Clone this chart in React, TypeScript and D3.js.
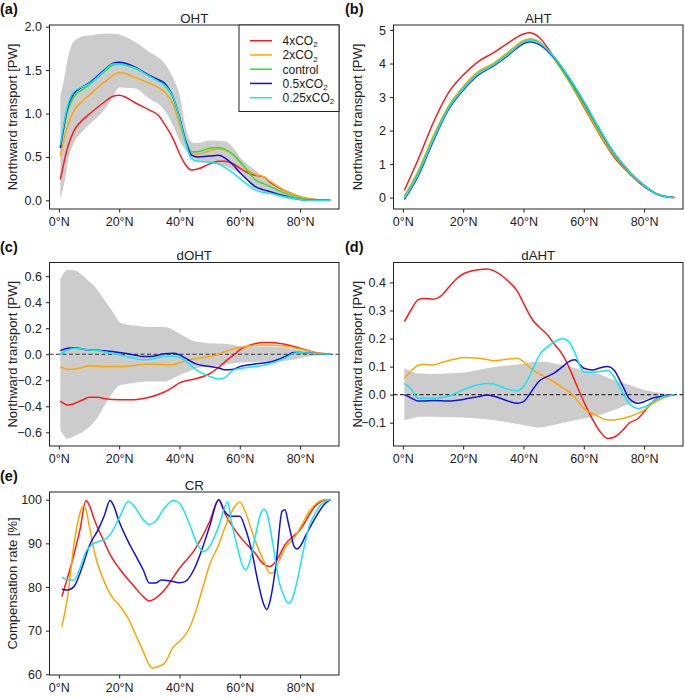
import React, { useEffect, useRef } from "react"
import * as d3 from "d3"

const FONT = "Liberation Sans, Arial, Helvetica, sans-serif"

const RED = "#ff1a1a"
const ORANGE = "#ffa500"
const GREEN = "#2ee02e"
const BLUE = "#1010e0"
const CYAN = "#10e8f0"
const BAND = "#cccccc"

const legendNames = ["4xCO", "2xCO", "control", "0.5xCO", "0.25xCO"]
const legendSub = ["2", "2", "", "2", "2"]
const legendColors = [RED, ORANGE, GREEN, BLUE, CYAN]

const xTicks = [0, 20, 40, 60, 80]

// ---- (a) OHT
const latA = [0.5, 3, 5, 8, 10, 15, 18, 20, 22, 25, 30, 33, 35, 38, 40, 42, 44, 46, 50, 53, 55, 58, 60, 63, 65, 68, 70, 75, 80, 85, 90]
const ohtRed = [0.24, 0.62, 0.80, 0.93, 0.99, 1.13, 1.20, 1.21, 1.19, 1.13, 1.04, 0.98, 0.88, 0.70, 0.54, 0.41, 0.35, 0.36, 0.42, 0.45, 0.45, 0.42, 0.37, 0.31, 0.29, 0.27, 0.21, 0.11, 0.04, 0.01, 0]
const ohtOrange = [0.51, 0.87, 1.03, 1.15, 1.21, 1.36, 1.44, 1.47, 1.46, 1.42, 1.35, 1.30, 1.25, 1.10, 0.88, 0.67, 0.55, 0.53, 0.57, 0.59, 0.58, 0.52, 0.44, 0.34, 0.30, 0.27, 0.22, 0.11, 0.04, 0.01, 0]
const ohtControl = [0.62, 1.04, 1.19, 1.28, 1.33, 1.48, 1.56, 1.57, 1.56, 1.52, 1.44, 1.38, 1.33, 1.17, 0.95, 0.70, 0.56, 0.56, 0.60, 0.61, 0.59, 0.52, 0.45, 0.32, 0.24, 0.19, 0.16, 0.08, 0.02, 0, 0]
const ohtHalf = [0.60, 1.08, 1.23, 1.31, 1.35, 1.50, 1.58, 1.59, 1.58, 1.54, 1.44, 1.39, 1.35, 1.18, 0.96, 0.69, 0.52, 0.50, 0.51, 0.52, 0.49, 0.40, 0.32, 0.22, 0.16, 0.12, 0.10, 0.05, 0.01, 0, 0]
const ohtQuarter = [0.64, 1.10, 1.25, 1.31, 1.34, 1.49, 1.57, 1.57, 1.56, 1.53, 1.43, 1.37, 1.33, 1.18, 0.95, 0.67, 0.48, 0.45, 0.44, 0.42, 0.38, 0.31, 0.25, 0.17, 0.12, 0.09, 0.08, 0.04, 0.01, 0, 0]
const bandALat = [0.5, 2, 3, 5, 8, 10, 15, 18, 20, 25, 30, 35, 38, 40, 42, 44, 46, 50, 55, 58, 60, 65, 70, 75, 80, 85, 90]
const bandAUp = [1.20, 1.45, 1.64, 1.83, 1.89, 1.90, 1.92, 1.92, 1.91, 1.83, 1.71, 1.58, 1.40, 1.22, 0.85, 0.67, 0.66, 0.69, 0.68, 0.60, 0.50, 0.35, 0.21, 0.12, 0.05, 0.01, 0]
const bandALow = [0.02, 0.23, 0.45, 0.66, 0.80, 0.87, 1.04, 1.19, 1.30, 1.29, 1.17, 1.04, 0.85, 0.69, 0.58, 0.50, 0.46, 0.43, 0.39, 0.35, 0.31, 0.14, 0.08, 0.02, 0, 0, 0]

// ---- (b) AHT
const latB = [0.5, 5, 10, 15, 20, 25, 30, 35, 40, 42, 45, 50, 55, 60, 65, 70, 75, 80, 85, 90]
const ahtRed = [0.22, 1.12, 2.22, 3.11, 3.66, 4.06, 4.32, 4.62, 4.88, 4.92, 4.80, 4.20, 3.50, 2.71, 1.92, 1.22, 0.73, 0.33, 0.08, 0]
const ahtOrange = [0.05, 0.78, 1.82, 2.71, 3.31, 3.76, 4.00, 4.35, 4.68, 4.73, 4.65, 4.16, 3.48, 2.74, 1.95, 1.26, 0.75, 0.35, 0.08, 0]
const ahtControl = [0.0, 0.72, 1.75, 2.66, 3.26, 3.71, 3.96, 4.30, 4.64, 4.70, 4.63, 4.18, 3.52, 2.80, 2.02, 1.30, 0.77, 0.36, 0.08, 0]
const ahtHalf = [-0.05, 0.63, 1.67, 2.61, 3.21, 3.66, 3.93, 4.25, 4.60, 4.65, 4.58, 4.20, 3.59, 2.86, 2.07, 1.34, 0.78, 0.36, 0.08, 0]
const ahtQuarter = [-0.02, 0.68, 1.71, 2.64, 3.24, 3.69, 3.95, 4.28, 4.63, 4.68, 4.62, 4.22, 3.60, 2.87, 2.08, 1.34, 0.78, 0.36, 0.08, 0]
const bandBUp = [0.06, 0.80, 1.83, 2.74, 3.34, 3.78, 4.03, 4.37, 4.71, 4.77, 4.70, 4.25, 3.59, 2.87, 2.09, 1.37, 0.83, 0.40, 0.10, 0]
const bandBLow = [-0.08, 0.62, 1.65, 2.56, 3.16, 3.62, 3.88, 4.22, 4.56, 4.62, 4.55, 4.11, 3.45, 2.72, 1.95, 1.23, 0.71, 0.32, 0.06, 0]

// ---- (c) dOHT
const latC = [0.5, 3, 5, 8, 10, 13, 15, 20, 25, 28, 30, 35, 38, 40, 43, 45, 50, 53, 55, 58, 60, 65, 68, 70, 75, 78, 80, 85, 90]
const dohtRed = [-0.36, -0.39, -0.38, -0.35, -0.33, -0.33, -0.34, -0.35, -0.35, -0.34, -0.33, -0.29, -0.25, -0.22, -0.20, -0.19, -0.15, -0.10, -0.06, -0.005, 0.033, 0.08, 0.09, 0.09, 0.077, 0.06, 0.046, 0.013, 0]
const dohtOrange = [-0.095, -0.115, -0.115, -0.10, -0.09, -0.093, -0.095, -0.095, -0.087, -0.078, -0.074, -0.08, -0.08, -0.064, -0.045, -0.035, -0.018, 0.0, 0.02, 0.04, 0.05, 0.07, 0.072, 0.07, 0.064, 0.05, 0.04, 0.013, 0]
const dohtHalf = [0.028, 0.046, 0.05, 0.04, 0.033, 0.03, 0.026, 0.013, -0.005, -0.018, -0.018, 0.003, 0.008, -0.005, -0.044, -0.07, -0.095, -0.105, -0.12, -0.115, -0.095, -0.075, -0.068, -0.06, -0.018, 0.013, 0.013, 0.005, 0]
const dohtQuarter = [0, 0.033, 0.046, 0.04, 0.033, 0.028, 0.02, -0.005, -0.03, -0.044, -0.04, -0.018, -0.015, -0.023, -0.07, -0.11, -0.17, -0.19, -0.18, -0.12, -0.11, -0.095, -0.085, -0.074, -0.03, 0.008, 0.013, 0.005, 0]
const bandCLat = [0.5, 3, 5, 10, 13, 15, 18, 20, 22, 25, 30, 35, 40, 43, 45, 50, 55, 60, 65, 70, 75, 80, 85, 90]
const bandCUp = [0.58, 0.65, 0.645, 0.56, 0.49, 0.42, 0.32, 0.25, 0.23, 0.22, 0.21, 0.21, 0.16, 0.12, 0.10, 0.085, 0.08, 0.064, 0.06, 0.06, 0.054, 0.033, 0.013, 0]
const bandCLow = [-0.58, -0.65, -0.63, -0.56, -0.48, -0.40, -0.29, -0.24, -0.23, -0.22, -0.21, -0.21, -0.16, -0.13, -0.11, -0.095, -0.08, -0.064, -0.06, -0.056, -0.05, -0.03, -0.01, 0]

// ---- (d) dAHT
const latD = [0.5, 3, 5, 7, 10, 13, 15, 18, 20, 25, 28, 30, 35, 38, 40, 43, 45, 48, 50, 53, 55, 57, 60, 63, 65, 68, 70, 73, 75, 78, 80, 83, 85, 90]
const dahtRed = [0.26, 0.307, 0.338, 0.343, 0.34, 0.355, 0.38, 0.415, 0.43, 0.445, 0.448, 0.442, 0.404, 0.368, 0.326, 0.267, 0.243, 0.213, 0.183, 0.142, 0.10, 0.05, -0.025, -0.09, -0.126, -0.156, -0.152, -0.126, -0.102, -0.085, -0.061, -0.025, -0.01, 0]
const dahtOrange = [0.058, 0.088, 0.104, 0.108, 0.106, 0.115, 0.121, 0.128, 0.132, 0.13, 0.125, 0.121, 0.127, 0.13, 0.118, 0.088, 0.076, 0.058, 0.046, 0.025, 0.011, -0.01, -0.049, -0.068, -0.079, -0.09, -0.09, -0.085, -0.079, -0.066, -0.055, -0.03, -0.019, 0]
const dahtHalf = [0, -0.013, -0.023, -0.023, -0.021, -0.022, -0.023, -0.02, -0.017, -0.007, -0.001, -0.005, -0.023, -0.031, -0.025, 0.017, 0.046, 0.065, 0.076, 0.1, 0.118, 0.124, 0.094, 0.088, 0.094, 0.1, 0.088, 0.029, -0.013, -0.031, -0.025, -0.012, -0.007, 0]
const dahtQuarter = [0.04, 0.017, -0.013, -0.013, -0.013, -0.01, -0.007, 0.008, 0.017, 0.035, 0.04, 0.038, 0.019, 0.014, 0.029, 0.088, 0.136, 0.171, 0.186, 0.2, 0.189, 0.15, 0.082, 0.08, 0.082, 0.086, 0.064, 0.005, -0.031, -0.049, -0.045, -0.025, -0.013, 0]
const bandDLat = [0.5, 3, 5, 10, 20, 30, 40, 45, 50, 55, 60, 65, 70, 75, 80, 85, 90]
const bandDUp = [0.094, 0.082, 0.076, 0.074, 0.079, 0.098, 0.11, 0.118, 0.112, 0.10, 0.086, 0.074, 0.052, 0.035, 0.017, 0.007, 0]
const bandDLow = [-0.09, -0.085, -0.079, -0.079, -0.081, -0.09, -0.108, -0.117, -0.108, -0.096, -0.085, -0.073, -0.055, -0.033, -0.019, -0.007, 0]

// ---- (e) CR
const crRedLat = [1, 3, 5, 7, 9, 10, 12, 15, 17, 20, 25, 28, 30, 32, 35, 40, 45, 50, 53, 55, 60, 65, 68, 70, 72, 75, 80, 85, 88, 90]
const crRed = [77.8, 82.4, 87.4, 93.1, 99.8, 98.9, 95.0, 90.4, 87.4, 84.3, 80.1, 77.8, 76.8, 77.4, 79.3, 84.3, 88.5, 95.0, 100, 96.9, 91.6, 87.8, 85.2, 84.7, 85.9, 89.7, 93.1, 98.5, 99.9, 100]
const crOrangeLat = [1, 3, 5, 7, 8, 9, 10, 12, 15, 18, 20, 23, 25, 28, 30, 31, 33, 35, 38, 40, 43, 45, 48, 50, 53, 55, 58, 60, 62, 65, 68, 70, 71, 73, 75, 78, 80, 83, 85, 88, 90]
const crOrange = [70.9, 78.2, 89.7, 96.9, 98.5, 97.7, 94.3, 87.4, 81.3, 77.4, 75.9, 72.8, 69.8, 65.2, 62.1, 61.4, 61.8, 62.5, 66.3, 67.5, 70.2, 73.6, 80.5, 85.1, 89.7, 93.5, 98.1, 99.5, 96.9, 90.8, 85.9, 83.2, 83.2, 85.9, 88.9, 91.2, 93.5, 97.3, 98.9, 100, 100]
const crHalfLat = [1, 3, 5, 8, 10, 13, 15, 17, 18, 20, 23, 25, 28, 30, 32, 34, 37, 40, 42, 45, 48, 50, 53, 55, 57, 60, 62, 64, 66, 68, 69, 70, 72, 74, 75, 76, 77, 78, 79, 80, 82, 85, 88, 90]
const crHalf = [79.5, 79.3, 80.1, 85.1, 89.3, 93.1, 96.2, 99.8, 98.9, 95.0, 90.4, 87.8, 83.9, 80.9, 80.9, 81.6, 81.4, 81.0, 81.3, 84.3, 89.7, 93.9, 100, 97.3, 96.2, 96.2, 93.1, 88.1, 81.3, 75.9, 74.8, 76.7, 85.1, 97.3, 97.7, 95.0, 92.0, 89.3, 88.7, 89.3, 92.0, 95.8, 98.9, 100]
const crQuarterLat = [1, 3, 5, 7, 9, 11, 13, 15, 17, 20, 23, 25, 28, 30, 32, 35, 38, 40, 43, 46, 48, 50, 53, 56, 57, 59, 61, 62, 63, 65, 67, 68, 69, 71, 73, 75, 76, 77, 79, 81, 83, 85, 88, 90]
const crQuarter = [82.3, 81.6, 81.6, 84.3, 88.1, 89.7, 90.4, 90.8, 92.0, 95.8, 99.6, 98.5, 95.4, 94.3, 95.0, 98.1, 99.8, 99.2, 95.0, 89.7, 88.1, 89.3, 93.9, 99.5, 95.8, 89.7, 84.7, 83.9, 85.1, 91.2, 96.9, 97.9, 96.9, 89.7, 81.3, 77.4, 76.3, 76.7, 81.3, 88.1, 93.9, 96.9, 99.5, 100]

const LEFT_X = [49.5, 339]
const RIGHT_X = [393.5, 683]
const X_DOMAIN = [-3.1, 92.9]
const PW = "Northward transport [PW]"

const panels = [
  {
    letter: "(a)", letterX: 0, title: "OHT", ylabel: PW, ylabelX: 16.5,
    xr: LEFT_X, top: 25, bottom: 209, yDomain: [-0.1, 2.02],
    yTicks: [0, 0.5, 1, 1.5, 2], yFmt: ".1f",
    band: { lat: bandALat, up: bandAUp, low: bandALow },
    series: [
      { lat: latA, v: ohtRed, c: RED }, { lat: latA, v: ohtOrange, c: ORANGE },
      { lat: latA, v: ohtControl, c: GREEN }, { lat: latA, v: ohtHalf, c: BLUE },
      { lat: latA, v: ohtQuarter, c: CYAN },
    ],
    legend: true,
  },
  {
    letter: "(b)", letterX: 345, title: "AHT", ylabel: PW, ylabelX: 361.5,
    xr: RIGHT_X, top: 25, bottom: 209, yDomain: [-0.34, 5.15],
    yTicks: [0, 1, 2, 3, 4, 5], yFmt: "d",
    band: { lat: latB, up: bandBUp, low: bandBLow },
    series: [
      { lat: latB, v: ahtRed, c: RED }, { lat: latB, v: ahtOrange, c: ORANGE },
      { lat: latB, v: ahtControl, c: GREEN }, { lat: latB, v: ahtHalf, c: BLUE },
      { lat: latB, v: ahtQuarter, c: CYAN },
    ],
  },
  {
    letter: "(c)", letterX: 0, title: "dOHT", ylabel: PW, ylabelX: 16.5,
    xr: LEFT_X, top: 262.5, bottom: 446, yDomain: [-0.705, 0.705],
    yTicks: [-0.6, -0.4, -0.2, 0, 0.2, 0.4, 0.6], yFmt: ".1f",
    band: { lat: bandCLat, up: bandCUp, low: bandCLow }, zero: true,
    series: [
      { lat: latC, v: dohtRed, c: RED }, { lat: latC, v: dohtOrange, c: ORANGE },
      { lat: latC, v: dohtHalf, c: BLUE }, { lat: latC, v: dohtQuarter, c: CYAN },
    ],
  },
  {
    letter: "(d)", letterX: 345, title: "dAHT", ylabel: PW, ylabelX: 361.5,
    xr: RIGHT_X, top: 262.5, bottom: 446, yDomain: [-0.183, 0.471],
    yTicks: [-0.1, 0, 0.1, 0.2, 0.3, 0.4], yFmt: ".1f",
    band: { lat: bandDLat, up: bandDUp, low: bandDLow }, zero: true,
    series: [
      { lat: latD, v: dahtRed, c: RED }, { lat: latD, v: dahtOrange, c: ORANGE },
      { lat: latD, v: dahtHalf, c: BLUE }, { lat: latD, v: dahtQuarter, c: CYAN },
    ],
  },
  {
    letter: "(e)", letterX: 0, title: "CR", ylabel: "Compensation rate [%]", ylabelX: 17,
    xr: LEFT_X, top: 492, bottom: 675, yDomain: [59.84, 101.77],
    yTicks: [60, 70, 80, 90, 100], yFmt: "d",
    series: [
      { lat: crRedLat, v: crRed, c: RED }, { lat: crOrangeLat, v: crOrange, c: ORANGE },
      { lat: crHalfLat, v: crHalf, c: BLUE }, { lat: crQuarterLat, v: crQuarter, c: CYAN },
    ],
  },
]

function styleAxis(g: any) {
  g.select(".domain").remove()
  g.selectAll("line").attr("stroke", "#222")
  g.selectAll("text").attr("fill", "#222").attr("font-size", 12.5).attr("font-family", FONT)
}

function drawPanel(svg: any, p: any) {
  const x = d3.scaleLinear().domain(X_DOMAIN).range(p.xr)
  const y = d3.scaleLinear().domain(p.yDomain).range([p.bottom, p.top])
  const g = svg.append("g")

  if (p.band) {
    const band = p.band
    const area = d3.area<number>()
      .x((d, i) => x(band.lat[i]))
      .y0((d, i) => y(band.low[i]))
      .y1(d => y(d))
      .curve(d3.curveMonotoneX)
    g.append("path").attr("d", area(band.up)).attr("fill", BAND)
  }

  if (p.zero) {
    g.append("line")
      .attr("x1", p.xr[0]).attr("x2", p.xr[1])
      .attr("y1", y(0)).attr("y2", y(0))
      .attr("stroke", "#333").attr("stroke-width", 1.1)
      .attr("stroke-dasharray", "4,2.5")
  }

  p.series.forEach((s: any) => {
    const line = d3.line<number>()
      .x((d, i) => x(s.lat[i]))
      .y(d => y(d))
      .curve(d3.curveMonotoneX)
    g.append("path").attr("d", line(s.v))
      .attr("fill", "none").attr("stroke", s.c).attr("stroke-width", 1.5)
  })

  g.append("rect")
    .attr("x", p.xr[0]).attr("y", p.top)
    .attr("width", p.xr[1] - p.xr[0]).attr("height", p.bottom - p.top)
    .attr("fill", "none").attr("stroke", "#222").attr("stroke-width", 1)

  const xAxis = d3.axisBottom(x).tickValues(xTicks)
    .tickFormat((d: any) => d + "°N").tickSize(3.5).tickPadding(5)
  g.append("g").attr("transform", `translate(0,${p.bottom})`).call(xAxis).call(styleAxis)

  const yAxis = d3.axisLeft(y).tickValues(p.yTicks)
    .tickFormat(d3.format(p.yFmt) as any).tickSize(3.5).tickPadding(4)
  g.append("g").attr("transform", `translate(${p.xr[0]},0)`).call(yAxis).call(styleAxis)

  g.append("text").text(p.title)
    .attr("x", (p.xr[0] + p.xr[1]) / 2).attr("y", p.top - 2.5)
    .attr("text-anchor", "middle").attr("font-size", 13.3)
    .attr("font-family", FONT).attr("fill", "#222")

  g.append("text").text(p.letter)
    .attr("x", p.letterX).attr("y", p.top - 11)
    .attr("font-size", 14.5).attr("font-weight", "bold")
    .attr("font-family", FONT).attr("fill", "#111")

  const cy = (p.top + p.bottom) / 2
  g.append("text").text(p.ylabel)
    .attr("transform", `translate(${p.ylabelX},${cy}) rotate(-90)`)
    .attr("text-anchor", "middle").attr("font-size", 13)
    .attr("font-family", FONT).attr("fill", "#222")

  if (p.legend) {
    const lg = g.append("g")
    lg.append("rect").attr("x", 239).attr("y", p.top)
      .attr("width", p.xr[1] - 239).attr("height", 86.5)
      .attr("fill", "#fff").attr("stroke", "#222").attr("stroke-width", 1)
    legendNames.forEach((name, i) => {
      const ry = 40.7 + i * 14.25
      lg.append("line").attr("x1", 250).attr("x2", 272).attr("y1", ry).attr("y2", ry)
        .attr("stroke", legendColors[i]).attr("stroke-width", 1.5)
      const t = lg.append("text").attr("x", 282.5).attr("y", ry + 4.3)
        .attr("font-size", 12).attr("font-family", FONT).attr("fill", "#222")
      t.append("tspan").text(name)
      if (legendSub[i]) t.append("tspan").attr("font-size", 8).attr("dy", 2.3).text(legendSub[i])
    })
  }
}

export default function App() {
  const ref = useRef<SVGSVGElement>(null)
  useEffect(() => {
    const svg = d3.select(ref.current)
    svg.selectAll("*").remove()
    panels.forEach(p => drawPanel(svg, p))
  }, [])
  return (
    <svg ref={ref} width={685} height={698}
      style={{ position: "absolute", left: 0, top: 0, background: "#fff" }} />
  )
}
